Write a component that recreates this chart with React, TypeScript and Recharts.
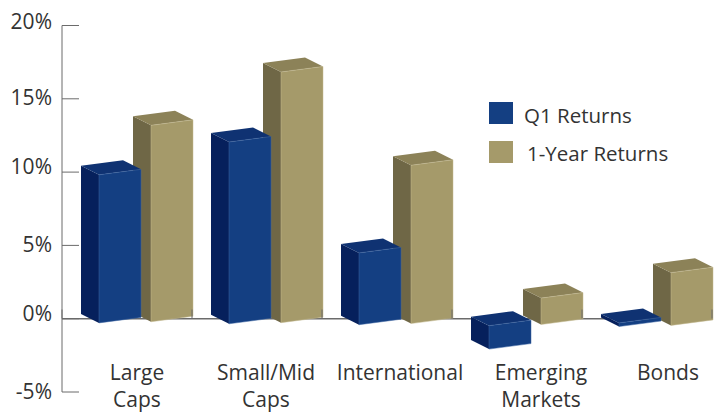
import React from 'react';
import { BarChart, Bar, XAxis, YAxis, ReferenceLine, Legend } from 'recharts';

const categories = ['Large Caps', 'Small/Mid Caps', 'International', 'Emerging Markets', 'Bonds'];
const q1Returns = [10.1, 12.4, 4.9, -1.6, 0.25];
const oneYearReturns = [13.4, 17.1, 10.8, 1.8, 3.6];
const yTicks = [-5, 0, 5, 10, 15, 20];

const chartData = categories.map((name, i) => ({
  name,
  q1: q1Returns[i],
  oneYear: oneYearReturns[i],
}));

const FONT = '"Open Sans", sans-serif';
const TEXT = '#333333';
const AXIS = '#6b6b6b';
const BLUE = { front: '#143f82', side: '#06205c', top: '#0f3272', edge: '#3f66a3', floor: 4.2 };
const TAN = { front: '#a59a6a', side: '#6f6746', top: '#8c8258', edge: '#c4bb92', floor: 2.7 };

// hand tuned, the labels in the original don't sit exactly on their ticks / band centres
const labelNudge = [10, 9, 13, 24, 21];
const yLabelLift = [0, -4.5, 0, -5, -1, -3.5];

// fake 3D box, the library still gives us x / y / height
const Box3D = (props: any) => {
  const { x, y, height, colors } = props;
  const top = Math.min(y, y + height);
  const bot = Math.max(y, y + height);
  const fx = x + 28;
  const fw = 42;
  // the original has a slight perspective, the floor sinks towards the right
  const oL = colors.floor + 0.007 * (fx - 99);
  const oR = oL - 5.5;
  const dx = 18;
  const dy = 9;
  const pts = (list: number[][]) => list.map((p) => p.join(',')).join(' ');
  return (
    <g>
      <polygon
        fill={colors.side}
        points={pts([[fx - dx, top + oL - dy], [fx, top + oL], [fx, bot + oL], [fx - dx, bot + oL - dy]])}
      />
      <polygon
        fill={colors.top}
        points={pts([[fx, top + oL], [fx + fw, top + oR], [fx + fw - dx, top + oR - dy], [fx - dx, top + oL - dy]])}
      />
      <polygon
        fill={colors.front}
        stroke={colors.edge}
        strokeWidth={0.5}
        points={pts([[fx, top + oL], [fx + fw, top + oR], [fx + fw, bot + oR], [fx, bot + oL]])}
      />
    </g>
  );
};

const YTick = (props: any) => {
  const { x, y, payload, index } = props;
  return (
    <g>
      <line x1={x} x2={x + 17} y1={y} y2={y} stroke={AXIS} strokeWidth={1} />
      <text x={x - 10} y={y + 7 + yLabelLift[index]} textAnchor="end" fontFamily={FONT} fontSize={21} fill={TEXT}>
        {payload.value}%
      </text>
    </g>
  );
};

const XTick = (props: any) => {
  const { x, payload, index } = props;
  const words = String(payload.value).split(' ');
  const zeroY = 318.5;
  return (
    <g>
      {index === 0 && <line x1={x - 65} x2={x - 65} y1={zeroY - 9} y2={zeroY} stroke={AXIS} />}
      <line x1={x + 65} x2={x + 65} y1={zeroY - 9} y2={zeroY} stroke={AXIS} />
      {words.map((w, i) => (
        <text
          key={w}
          x={x + labelNudge[index]}
          y={380 + i * 26.5}
          textAnchor="middle"
          fontFamily={FONT}
          fontSize={21}
          fill={TEXT}
        >
          {w}
        </text>
      ))}
    </g>
  );
};

const LegendBox = () => (
  <div style={{ fontFamily: FONT, fontSize: 20.5, color: TEXT, lineHeight: '22px' }}>
    <div style={{ display: 'flex', alignItems: 'center', height: 22, marginBottom: 17 }}>
      <span style={{ width: 24, height: 22, background: BLUE.front, marginRight: 11 }} />
      <span style={{ position: 'relative', top: 2 }}>Q1 Returns</span>
    </div>
    <div style={{ display: 'flex', alignItems: 'center', height: 22 }}>
      <span style={{ width: 24, height: 22, background: TAN.front, marginRight: 14 }} />
      <span style={{ position: 'relative', top: 1 }}>1-Year Returns</span>
    </div>
  </div>
);

export default function App() {
  return (
    <div style={{ position: 'absolute', left: 0, top: 0, width: 714, height: 413, background: '#fff' }}>
      <BarChart
        width={714}
        height={413}
        data={chartData}
        margin={{ top: 25.5, right: 2, bottom: 20, left: 0 }}
        barSize={60}
        barGap={-112}
      >
        <XAxis
          dataKey="name"
          height={1}
          axisLine={false}
          tickLine={false}
          tick={<XTick />}
          interval={0}
        />
        <YAxis
          width={62}
          domain={[-5, 20]}
          ticks={yTicks}
          interval={0}
          axisLine={{ stroke: AXIS, strokeWidth: 1 }}
          tickLine={false}
          tickSize={0}
          tickMargin={0}
          tick={<YTick />}
        />
        <ReferenceLine y={0} stroke={AXIS} strokeWidth={1.5} zIndex={-50} />
        <Bar dataKey="oneYear" isAnimationActive={false} shape={<Box3D colors={TAN} />} />
        <Bar dataKey="q1" isAnimationActive={false} shape={<Box3D colors={BLUE} />} />
        <Legend
          layout="vertical"
          align="center"
          verticalAlign="middle"
          content={<LegendBox />}
          wrapperStyle={{ left: 489, top: 102, width: 220, bottom: 'auto' }}
        />
      </BarChart>
    </div>
  );
}
